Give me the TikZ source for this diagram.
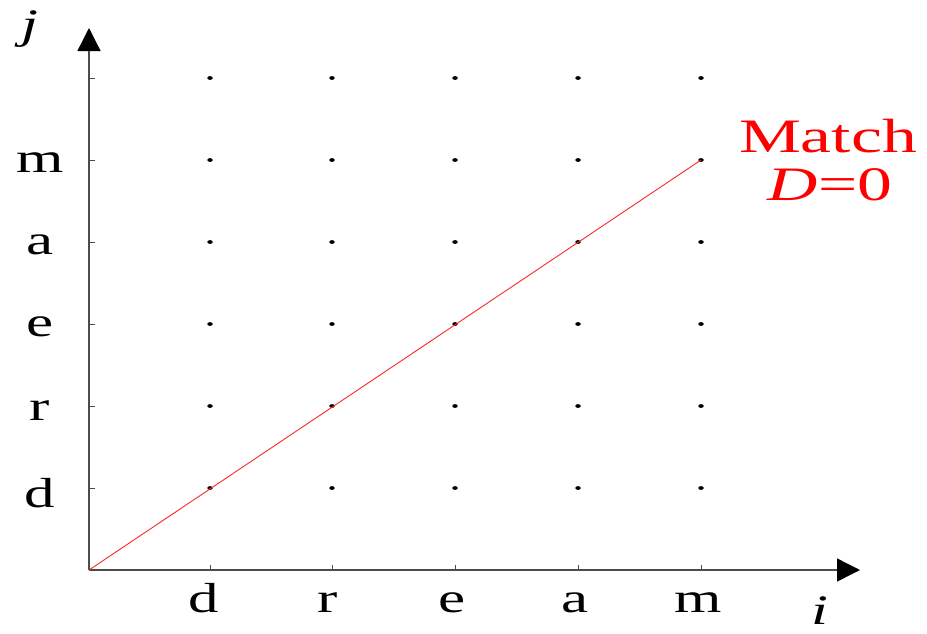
\documentclass[tikz,border=0pt]{standalone}
\usepackage{fontspec}
\setmainfont{Liberation Serif}
\usetikzlibrary{arrows.meta,shapes.geometric}
\newcommand{\widetxt}[1]{\scalebox{1.45}[1]{#1}}
\begin{document}
\begin{tikzpicture}[x=1pt,y=-1pt,
  axis/.style={draw=black!70,line width=1.4pt,-{Triangle[width=23pt,length=23pt,color=black]}},
  gdot/.style={ellipse,fill=black,inner sep=0pt,minimum width=5.5pt,minimum height=3.8pt},
  tick/.style={draw=black!70,line width=1pt},
  lab/.style={font=\fontsize{42}{42}\selectfont,anchor=base,inner sep=0pt},
  redlab/.style={font=\fontsize{48}{48}\selectfont,anchor=base,inner sep=0pt,text=red}]
\useasboundingbox (0,0) rectangle (927,633);
\coordinate (O) at (89,570);
\coordinate (XE) at (860,570);
\coordinate (YE) at (89,28);
\draw[axis] (O) -- (XE);
\draw[axis] (O) -- (YE);
% grid dots
\foreach \c [count=\ci] in {210,332,455,578,701}{
  \foreach \r [count=\ri] in {488,406,324,242,160,78}{
    \node[gdot] (p\ci\ri) at (\c,\r) {};
  }
  \draw[tick] (\c,570) -- (\c,565);
}
\foreach \r in {488,406,324,242,160,78}{
  \draw[tick] (89,\r) -- (95,\r);
}
% red match line
\draw[red!85,line width=0.9pt] (O) -- (p55.center);
% x labels
\node[lab] (xd) at (204,612) {\widetxt{d}};
\node[lab] (xr) at (328,612) {\widetxt{r}};
\node[lab] (xe) at (452,612) {\widetxt{e}};
\node[lab] (xa) at (575,612) {\widetxt{a}};
\node[lab] (xm) at (698,612) {\widetxt{m}};
% y labels
\node[lab] (yd) at (40,507) {\widetxt{d}};
\node[lab] (yr) at (40,420) {\widetxt{r}};
\node[lab] (ye) at (40,336) {\widetxt{e}};
\node[lab] (ya) at (40,254) {\widetxt{a}};
\node[lab] (ym) at (40,172) {\widetxt{m}};
% axis names
\node[lab] (ilab) at (820,624) {\widetxt{\itshape i}};
\node[lab] (jlab) at (30,38) {\widetxt{\itshape j}};
% match label
\node[redlab] (match) at (828,152) {\widetxt{Match}};
\node[redlab] (dzero) at (830,200) {\widetxt{\textit{D}=0}};
\end{tikzpicture}
\end{document}
